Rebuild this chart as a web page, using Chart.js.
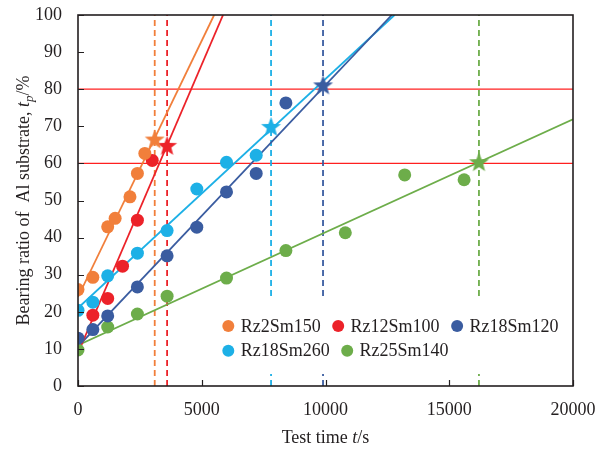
<!DOCTYPE html>
<html>
<head>
<meta charset="utf-8">
<script src="https://cdn.jsdelivr.net/npm/chart.js@4/dist/chart.umd.min.js"></script>
<style>
  body { margin: 0; background: #fff; }
  #wrap { width: 598px; height: 450px; }
</style>
</head>
<body>
<div id="wrap"><canvas id="grafico" width="598" height="450"></canvas></div>
<script>
// datos

const series = ["Rz2Sm150", "Rz12Sm100", "Rz18Sm120", "Rz18Sm260", "Rz25Sm140"];
const colores = ["#F17F3B", "#EC2229", "#3A5CA0", "#1DB0E6", "#6DAD4A"];

// tiempo de ensayo (s) y relacion de soporte (%)
const tOrange = [0, 600, 1200, 1500, 2100, 2400, 2700];
const yOrange = [26, 29.3, 42.9, 45.2, 51, 57.3, 62.7];
const tRed = [600, 1200, 1800, 2400, 3000];
const yRed = [19.1, 23.6, 32.3, 44.7, 60.8];
const tDarkBlue = [0, 600, 1200, 2400, 3600, 4800, 6000, 7200, 8400];
const yDarkBlue = [12.9, 15.2, 18.9, 26.7, 35.1, 42.8, 52.3, 57.3, 76.3];
const tLightBlue = [0, 600, 1200, 2400, 3600, 4800, 6000, 7200];
const yLightBlue = [20.4, 22.6, 29.7, 35.8, 41.9, 53.1, 60.3, 62.2];
const tGreen = [0, 1200, 2400, 3600, 6000, 8400, 10800, 13200, 15600];
const yGreen = [9.7, 15.9, 19.4, 24.2, 29.1, 36.5, 41.3, 56.9, 55.6];

// rectas de ajuste: [x0, y0, x1, y1]
const fitOrange = [0, 24, 5500, 100];
const fitRed = [0, 8.9, 5860, 100];
const fitDarkBlue = [0, 10.6, 12680, 100];
const fitLightBlue = [0, 21, 12790, 100];
const fitGreen = [0, 11, 20000, 71.9];

// estrellas (tiempo critico)
const starT = [3100, 3600, 9900, 7800, 16200];
const starY = [66.3, 64.6, 80.9, 69.7, 60.2];

// lineas horizontales de referencia
const refY = [60, 80];

const xTicks = [0, 5000, 10000, 15000, 20000];
const yTicks = [0, 10, 20, 30, 40, 50, 60, 70, 80, 90, 100];

const fuente = "'Liberation Serif', 'Times New Roman', serif";
const colorTexto = "#231f20";

/*
 ****************************************************************************************
 */
function pares(xs, ys) {
    return xs.map((x, i) => ({ x: x, y: ys[i] }));
}

function recta(f) {
    return [{ x: f[0], y: f[1] }, { x: f[2], y: f[3] }];
}

function estrella(color, r) {
    const c = document.createElement("canvas");
    const s = Math.ceil(r * 2 + 2);
    c.width = s;
    c.height = s;
    const g = c.getContext("2d");
    g.beginPath();
    for (let i = 0; i < 10; i++) {
        const rad = i % 2 ? r * 0.42 : r;
        const a = -Math.PI / 2 + i * Math.PI / 5;
        g.lineTo(s / 2 + rad * Math.cos(a), s / 2 + rad * Math.sin(a));
    }
    g.closePath();
    g.fillStyle = color;
    g.fill();
    return c;
}

const puntos = [
    pares(tOrange, yOrange),
    pares(tRed, yRed),
    pares(tDarkBlue, yDarkBlue),
    pares(tLightBlue, yLightBlue),
    pares(tGreen, yGreen),
];
const ajustes = [fitOrange, fitRed, fitDarkBlue, fitLightBlue, fitGreen];

const datasets = [];

// estrellas arriba de todo
series.forEach((nombre, i) => {
    datasets.push({
        label: nombre + " star",
        data: [{ x: starT[i], y: starY[i] }],
        pointStyle: estrella(colores[i], 10.5),
        pointRadius: 10,
        showLine: false,
        order: 0,
    });
});

// puntos medidos
series.forEach((nombre, i) => {
    datasets.push({
        label: nombre,
        data: puntos[i],
        backgroundColor: colores[i],
        borderColor: colores[i],
        borderWidth: 0,
        pointRadius: 6.5,
        pointHoverRadius: 6.5,
        showLine: false,
        order: 1,
    });
});

// rectas de ajuste
series.forEach((nombre, i) => {
    datasets.push({
        label: nombre + " fit",
        data: recta(ajustes[i]),
        borderColor: colores[i],
        borderWidth: 1.8,
        pointRadius: 0,
        showLine: true,
        order: 2,
    });
});

// lineas verticales punteadas
series.forEach((nombre, i) => {
    datasets.push({
        label: nombre + " tc",
        data: [{ x: starT[i], y: 0 }, { x: starT[i], y: 100 }],
        borderColor: colores[i],
        borderWidth: 1.8,
        borderDash: [6, 4],
        pointRadius: 0,
        showLine: true,
        order: 3,
    });
});

// lineas rojas horizontales
refY.forEach((v) => {
    datasets.push({
        label: "ref " + v,
        data: [{ x: 0, y: v }, { x: 20000, y: v }],
        borderColor: "#FF2020",
        borderWidth: 1.3,
        pointRadius: 0,
        showLine: true,
        order: 4,
    });
});

// Leyenda dentro del area, marco, ticks hacia adentro y titulos
const pluginExtras = {
    id: "extras",
    afterDatasetsDraw(chart) {
        const ctx = chart.ctx;
        ctx.save();
        ctx.fillStyle = "#fff";
        ctx.fillRect(212, 300, 354, 74);

        ctx.font = "18px " + fuente;
        ctx.textBaseline = "middle";
        const filas = [[0, 1, 2], [3, 4]];
        const filaY = [326, 350.7];
        filas.forEach((fila, f) => {
            let x = 222.3;
            fila.forEach((i) => {
                ctx.fillStyle = colores[i];
                ctx.beginPath();
                ctx.arc(x + 6, filaY[f], 6, 0, Math.PI * 2);
                ctx.fill();
                ctx.fillStyle = colorTexto;
                ctx.fillText(series[i], x + 18.4, filaY[f] + 1);
                x += 18.4 + ctx.measureText(series[i]).width + 11.5;
            });
        });
        ctx.restore();
    },
    afterDraw(chart) {
        const ctx = chart.ctx;
        const a = chart.chartArea;
        const sx = chart.scales.x;
        const sy = chart.scales.y;
        ctx.save();
        ctx.strokeStyle = "#231f20";
        ctx.lineWidth = 1.6;
        ctx.strokeRect(a.left, a.top, a.right - a.left, a.bottom - a.top);

        ctx.lineWidth = 1.2;
        ctx.beginPath();
        yTicks.forEach((v) => {
            const py = Math.round(sy.getPixelForValue(v)) + 0.5;
            ctx.moveTo(a.left, py);
            ctx.lineTo(a.left + 6, py);
        });
        xTicks.forEach((v) => {
            const px = Math.round(sx.getPixelForValue(v)) + 0.5;
            ctx.moveTo(px, a.bottom);
            ctx.lineTo(px, a.bottom - 6);
        });
        ctx.stroke();

        // titulo eje X: "Test time t/s"
        ctx.fillStyle = colorTexto;
        ctx.textBaseline = "alphabetic";
        const normal = "18px " + fuente;
        const italica = "italic 18px " + fuente;
        const sub = "italic 13px " + fuente;
        const partesX = [["Test time ", normal, 0], ["t", italica, 0], ["/s", normal, 0]];
        dibujarPartes(ctx, partesX, (a.left + a.right) / 2, 443);

        // titulo eje Y
        ctx.translate(29, (a.top + a.bottom) / 2);
        ctx.rotate(-Math.PI / 2);
        const partesY = [
            ["Bearing ratio of  Al substrate, ", normal, 0],
            ["t", italica, 0],
            ["p", sub, 4],
            ["/%", normal, 0],
        ];
        dibujarPartes(ctx, partesY, 0, 0);
        ctx.restore();
    },
};

function dibujarPartes(ctx, partes, cx, base) {
    let total = 0;
    partes.forEach((p) => {
        ctx.font = p[1];
        total += ctx.measureText(p[0]).width;
    });
    let x = cx - total / 2;
    partes.forEach((p) => {
        ctx.font = p[1];
        ctx.fillText(p[0], x, base + p[2]);
        x += ctx.measureText(p[0]).width;
    });
}

const config = {
    type: "scatter",
    data: { datasets: datasets },
    options: {
        responsive: false,
        animation: false,
        events: [],
        layout: { padding: { left: 0, top: 15, right: 25, bottom: 0 } },
        plugins: {
            legend: { display: false },
            tooltip: { enabled: false },
        },
        scales: {
            x: {
                type: "linear",
                min: 0,
                max: 20000,
                afterFit: (s) => {
                    s.height = 64;
                    s.paddingLeft = 0;
                    s.paddingRight = 0;
                },
                afterBuildTicks: (s) => { s.ticks = xTicks.map((v) => ({ value: v })); },
                grid: { display: false, drawTicks: false },
                border: { display: false },
                ticks: {
                    padding: 13,
                    color: colorTexto,
                    font: { family: fuente, size: 18 },
                    maxRotation: 0,
                    callback: (v) => String(v),
                },
            },
            y: {
                type: "linear",
                min: 0,
                max: 100,
                afterFit: (s) => {
                    s.width = 78;
                    s.paddingTop = 0;
                    s.paddingBottom = 0;
                },
                afterBuildTicks: (s) => { s.ticks = yTicks.map((v) => ({ value: v })); },
                grid: { display: false, drawTicks: false },
                border: { display: false },
                ticks: {
                    padding: 16,
                    color: colorTexto,
                    font: { family: fuente, size: 18 },
                    callback: (v) => String(v),
                },
            },
        },
    },
    plugins: [pluginExtras],
};

window.grafico = new Chart(document.getElementById("grafico").getContext("2d"), config);
</script>
</body>
</html>
